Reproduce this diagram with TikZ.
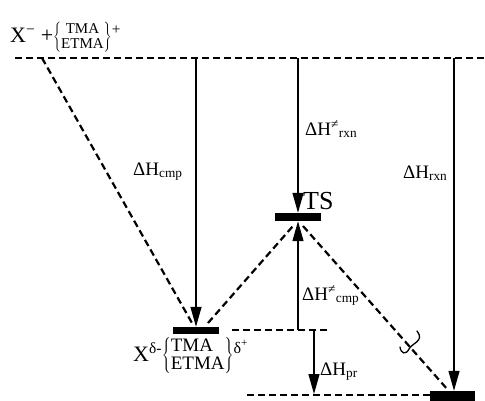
\documentclass[tikz,border=0pt]{standalone}
\usepackage{fontspec}
\setmainfont{Liberation Serif}
\usetikzlibrary{arrows.meta}

\tikzset{
  bar/.style={fill=black, inner sep=0pt},
  energy/.style={line width=1.4pt, -{Triangle[length=20pt,width=11pt]}},
  route/.style={line width=2.2pt, dash pattern=on 7pt off 4pt},
  lbl/.style={font=\fontsize{19}{21}\selectfont, inner sep=0pt},
}

\begin{document}
\begin{tikzpicture}[x=1pt, y=-1pt]
  \useasboundingbox (0,0) rectangle (485,400);

  % energy levels
  \node[bar, minimum width=46pt, minimum height=7pt] (cmp) at (196,330.5) {};
  \node[bar, minimum width=46pt, minimum height=8pt] (ts) at (298,217) {};
  \node[bar, minimum width=45pt, minimum height=12pt] (pr) at (452.5,397) {};

  % dashed reference levels
  \coordinate (top w) at (15,58);
  \coordinate (top e) at (485,58);
  \coordinate (cmp w) at (232,330);
  \coordinate (cmp e) at (328,330);
  \coordinate (pr w) at (247,395);
  \draw[route] (top w) -- (top e);
  \draw[route] (cmp w) -- (cmp e);
  \draw[route] (pr w) -- (pr.west |- pr w);

  % reaction path
  \coordinate (start) at (42,58);
  \coordinate (cmp l) at (192,323);
  \coordinate (cmp r) at (208,323);
  \coordinate (ts l) at (293,226);
  \coordinate (ts r) at (303,226);
  \coordinate (pr tip) at (448,390);
  \draw[route] (start) -- (cmp l);
  \draw[route] (cmp r) -- (ts l);
  \draw[route] (ts r) -- (pr tip);

  % axis break on the last leg
  \draw[line width=1.3pt, line cap=round] (400,347) .. controls (401,354) and (406,355) .. (409,349)
    .. controls (412,343) and (425,341) .. (417,331);

  % enthalpy arrows
  \coordinate (a cmp) at (196,58);
  \coordinate (a ts) at (298,58);
  \coordinate (a rxn) at (454,58);
  \coordinate (b ts) at (298,330);
  \coordinate (b pr) at (314,330);
  \coordinate (e pr) at (314,394);
  \draw[energy] (a cmp) -- (cmp.north);
  \draw[energy] (a ts) -- (ts.north);
  \draw[energy] (a rxn) -- (a rxn |- pr.north);
  \draw[energy] (b ts) -- (ts.south);
  \draw[energy] (b pr) -- (e pr);

  % labels
  \node[lbl, anchor=base west] (l cmp) at (133,175) {ΔH\textsubscript{cmp}};
  \node[lbl, anchor=base west] (l tsrxn) at (305,135) {ΔH\textsuperscript{≠}\textsubscript{rxn}};
  \node[lbl, anchor=base west] (l rxn) at (403,178) {ΔH\textsubscript{rxn}};
  \node[lbl, anchor=base west] (l tscmp) at (302,300) {ΔH\textsuperscript{≠}\textsubscript{cmp}};
  \node[lbl, anchor=base west] (l pr) at (320,375) {ΔH\textsubscript{pr}};
  \node[font=\fontsize{26}{28}\selectfont, inner sep=0pt, anchor=base west] (l ts) at (303,209) {TS};

  \node[font=\fontsize{22}{24}\selectfont, inner sep=0pt, anchor=base west] (reac) at (10,42)
    {X\textsuperscript{−} +$\left\{\mbox{\fontsize{15}{15}\selectfont\begin{tabular}{@{}c@{}}TMA\\ETMA\end{tabular}}\right\}$\textsuperscript{+}};
  \node[font=\fontsize{22}{24}\selectfont, inner sep=0pt, anchor=base west] (cplx) at (133,361)
    {X\textsuperscript{δ-}$\left\{\mbox{\fontsize{19}{17}\selectfont\begin{tabular}{@{}l@{}}TMA\\ETMA\end{tabular}}\right\}$\raisebox{8pt}{\fontsize{16}{17}\selectfont δ\textsuperscript{+}}};
\end{tikzpicture}
\end{document}
